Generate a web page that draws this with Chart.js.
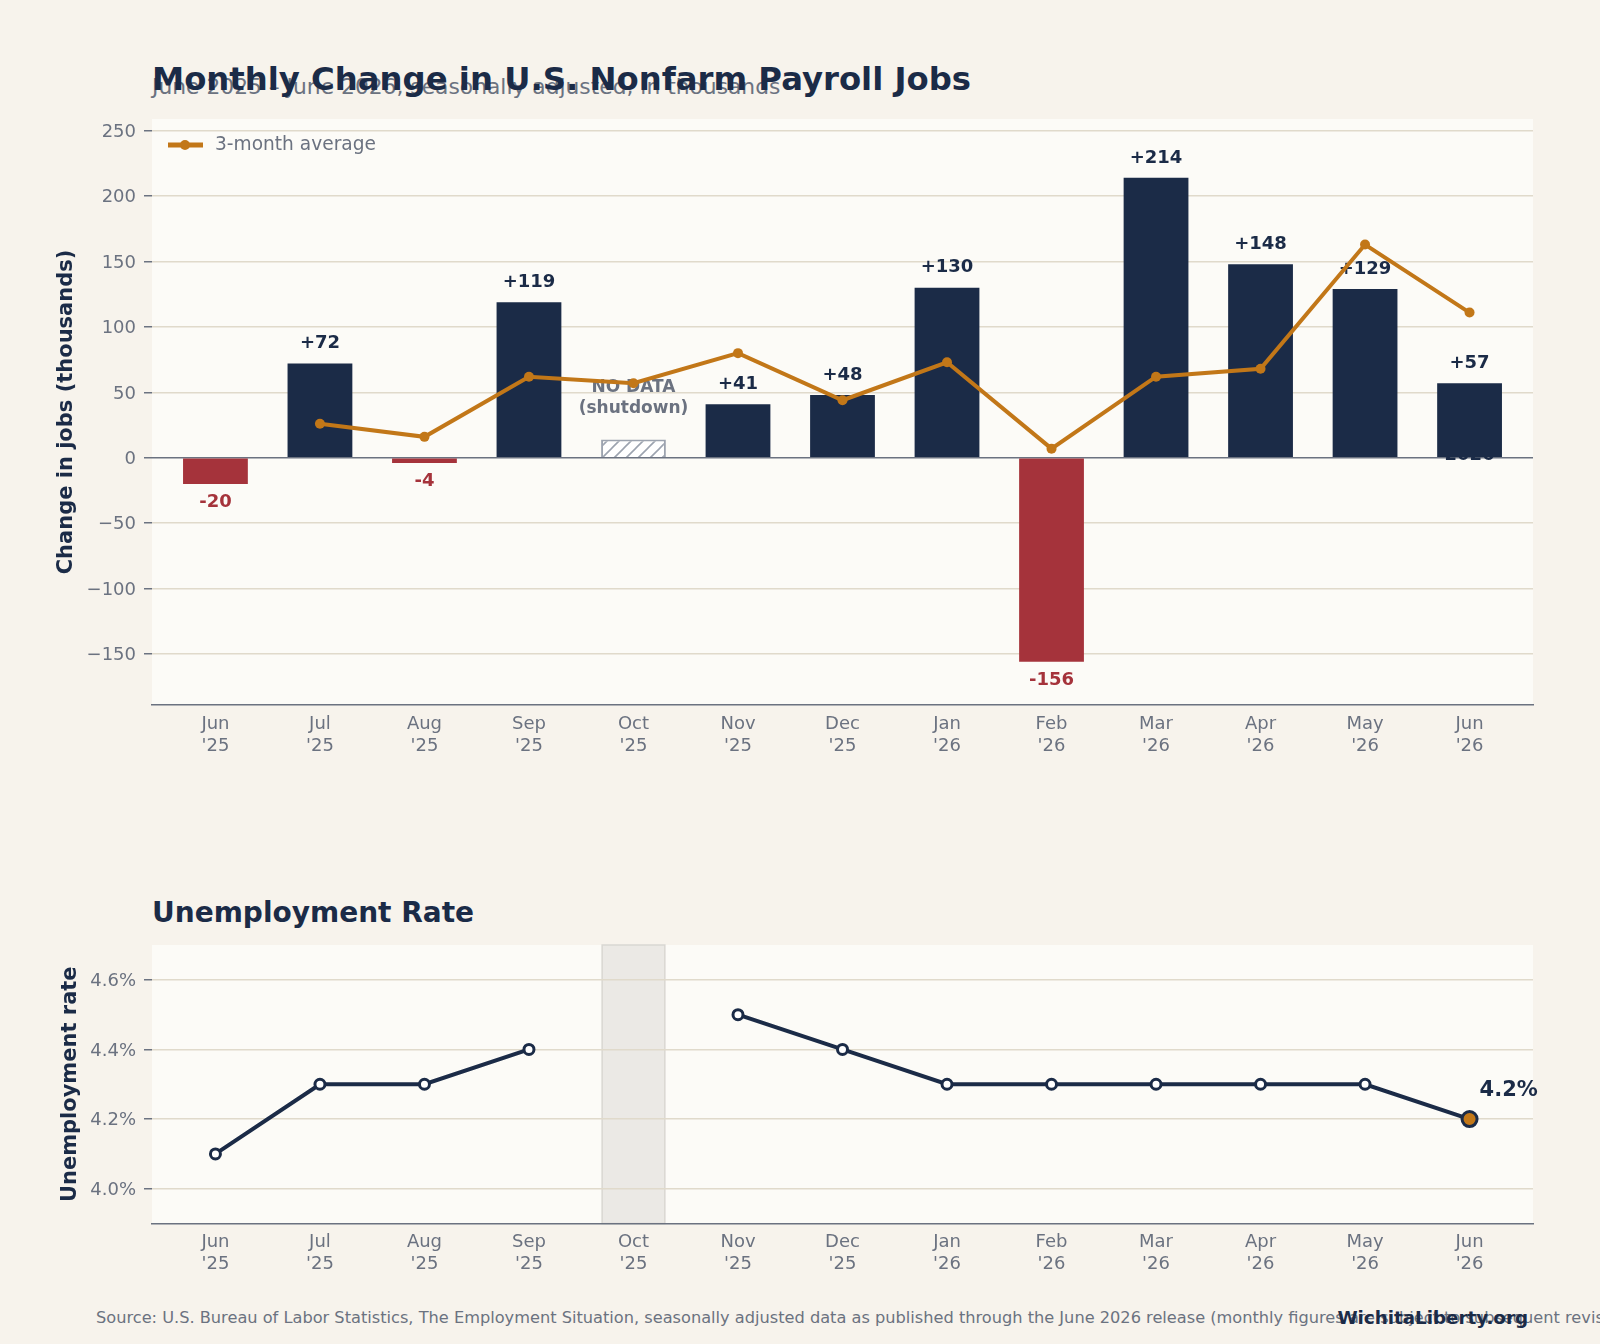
<!DOCTYPE html>
<html lang="en">
<head>
    <meta charset="UTF-8">
    <title>Monthly Change in U.S. Nonfarm Payroll Jobs</title>
    <script src="https://cdn.jsdelivr.net/npm/chart.js"></script>
    <style>
        body {
            margin: 0;
            width: 1600px;
            height: 1344px;
            overflow: hidden;
            background: #f7f3ec;
            font-family: "DejaVu Sans", sans-serif;
            position: relative;
        }
        .txt {
            position: absolute;
            white-space: nowrap;
        }
        .title {
            left: 152px;
            top: 60px;
            font-size: 32.3px;
            line-height: 38px;
            font-weight: bold;
            color: #1b2b47;
            z-index: 2;
        }
        .subtitle {
            left: 152px;
            top: 74px;
            font-size: 21.8px;
            line-height: 26px;
            color: #6b7280;
            z-index: 1;
        }
        .title2 {
            left: 152px;
            top: 896px;
            font-size: 28px;
            line-height: 34px;
            font-weight: bold;
            color: #1b2b47;
        }
        .source {
            left: 96px;
            top: 1308px;
            font-size: 16.2px;
            line-height: 19px;
            color: #6b7280;
        }
        .brand {
            right: 72px;
            top: 1307px;
            font-size: 18.3px;
            line-height: 22px;
            font-weight: bold;
            color: #1b2b47;
        }
        canvas { position: absolute; left: 0; }
        #jobsChart { top: 100px; }
        #rateChart { top: 920px; }
    </style>
</head>
<body>
    <div class="txt subtitle">June 2025 – June 2026, seasonally adjusted, in thousands</div>
    <div class="txt title">Monthly Change in U.S. Nonfarm Payroll Jobs</div>
    <canvas id="jobsChart" width="1600" height="680"></canvas>
    <div class="txt title2">Unemployment Rate</div>
    <canvas id="rateChart" width="1600" height="370"></canvas>
    <div class="txt source">Source: U.S. Bureau of Labor Statistics, The Employment Situation, seasonally adjusted data as published through the June 2026 release (monthly figures are subject to subsequent revisions).</div>
    <div class="txt brand">WichitaLiberty.org</div>

    <script>
        // data
        const months = ['Jun', 'Jul', 'Aug', 'Sep', 'Oct', 'Nov', 'Dec', 'Jan', 'Feb', 'Mar', 'Apr', 'May', 'Jun'];
        const years = ["'25", "'25", "'25", "'25", "'25", "'25", "'25", "'26", "'26", "'26", "'26", "'26", "'26"];
        const jobChange = [-20, 72, -4, 119, null, 41, 48, 130, -156, 214, 148, 129, 57];
        const noDataMarker = [null, null, null, null, 14, null, null, null, null, null, null, null, null];
        const threeMonthAvg = [null, 26, 16, 62, 57, 80, 44, 73, 7, 62, 68, 163, 111];
        const unemploymentRate = [4.1, 4.3, 4.3, 4.4, null, 4.5, 4.4, 4.3, 4.3, 4.3, 4.3, 4.3, 4.2];
        const jobTicks = [-150, -100, -50, 0, 50, 100, 150, 200, 250];
        const rateTicks = [4.0, 4.2, 4.4, 4.6];
        const shutdownIndex = 4;

        const NAVY = '#1b2b47';
        const RED = '#a5333b';
        const ORANGE = '#c27718';
        const GRAY = '#6b7280';
        const GRID = '#e0dacb';
        const PLOT_BG = '#fcfbf7';
        const FONT = '"DejaVu Sans", sans-serif';

        Chart.defaults.font.family = FONT;
        Chart.defaults.color = GRAY;

        const xMin = -0.607, xMax = 12.607;

        function xy(arr) {
            return arr.map((v, i) => ({ x: i, y: v }));
        }

        function hatch() {
            const c = document.createElement('canvas');
            c.width = 12; c.height = 12;
            const g = c.getContext('2d');
            g.fillStyle = '#ffffff';
            g.fillRect(0, 0, 12, 12);
            g.strokeStyle = '#9ca3af';
            g.lineWidth = 1.6;
            g.beginPath();
            g.moveTo(0, 12); g.lineTo(12, 0);
            g.moveTo(-6, 6); g.lineTo(6, -6);
            g.moveTo(6, 18); g.lineTo(18, 6);
            g.stroke();
            return g.createPattern(c, 'repeat');
        }

        const plotBg = {
            id: 'plotBg',
            beforeDraw(chart) {
                const { ctx, chartArea: a } = chart;
                ctx.save();
                ctx.fillStyle = PLOT_BG;
                ctx.fillRect(a.left, a.top, a.right - a.left, a.bottom - a.top);
                ctx.restore();
            }
        };

        function xAxis(h) {
            return {
                type: 'linear',
                min: xMin,
                max: xMax,
                offset: false,
                grid: { display: false, drawTicks: false },
                border: { display: true, color: GRAY, width: 1.5 },
                afterBuildTicks: s => { s.ticks = months.map((m, i) => ({ value: i })); },
                afterFit: s => { s.height = h; },
                ticks: {
                    autoSkip: false,
                    maxRotation: 0,
                    padding: 8,
                    color: GRAY,
                    font: { size: 18, lineHeight: 1.22 },
                    callback: v => [months[v], years[v]]
                }
            };
        }

        // labels on the bars
        const barLabels = {
            id: 'barLabels',
            beforeDatasetsDraw(chart) {
                const { ctx } = chart;
                const meta = chart.getDatasetMeta(0);
                const last = meta.data[meta.data.length - 1];
                const y0 = chart.scales.y.getPixelForValue(0);
                ctx.save();
                ctx.font = 'bold 18px ' + FONT;
                ctx.fillStyle = NAVY;
                ctx.textAlign = 'center';
                ctx.textBaseline = 'middle';
                ctx.fillText('2026', last.x, y0 - 2);
                ctx.restore();
            },
            afterDatasetDraw(chart, args) {
                if (args.index !== 1) return;
                const { ctx } = chart;
                const meta = chart.getDatasetMeta(0);
                ctx.save();
                ctx.font = 'bold 18px ' + FONT;
                ctx.textAlign = 'center';
                ctx.textBaseline = 'middle';
                jobChange.forEach((v, i) => {
                    if (v === null) return;
                    const bar = meta.data[i];
                    if (v >= 0) {
                        ctx.fillStyle = NAVY;
                        ctx.fillText('+' + v, bar.x, bar.y - 20);
                    } else {
                        ctx.fillStyle = RED;
                        ctx.fillText(String(v), bar.x, bar.y + 18);
                    }
                });
                const nd = chart.getDatasetMeta(1).data[shutdownIndex];
                ctx.font = 'bold 17px ' + FONT;
                ctx.fillStyle = GRAY;
                ctx.fillText('NO DATA', nd.x, nd.y - 52);
                ctx.fillText('(shutdown)', nd.x, nd.y - 31);
                ctx.restore();
            },
            afterDraw(chart) {
                // legend in the top-left corner of the plot
                const { ctx, chartArea: a } = chart;
                const y = a.top + 26;
                const x = a.left + 16;
                ctx.save();
                ctx.strokeStyle = ORANGE;
                ctx.lineWidth = 5;
                ctx.beginPath();
                ctx.moveTo(x, y);
                ctx.lineTo(x + 35, y);
                ctx.stroke();
                ctx.fillStyle = ORANGE;
                ctx.beginPath();
                ctx.arc(x + 17, y, 5, 0, Math.PI * 2);
                ctx.fill();
                ctx.fillStyle = GRAY;
                ctx.font = '18.6px ' + FONT;
                ctx.textBaseline = 'middle';
                ctx.fillText('3-month average', x + 47, y);
                ctx.restore();
            }
        };

        new Chart(document.getElementById('jobsChart'), {
            data: {
                datasets: [{
                    type: 'bar',
                    label: 'Monthly change',
                    data: xy(jobChange),
                    backgroundColor: jobChange.map(v => v < 0 ? RED : NAVY),
                    barPercentage: 0.62,
                    categoryPercentage: 1,
                    grouped: false,
                    order: 2
                }, {
                    type: 'bar',
                    label: 'No data',
                    data: xy(noDataMarker),
                    backgroundColor: hatch(),
                    borderColor: '#9ca3af',
                    borderWidth: 2,
                    barPercentage: 0.62,
                    categoryPercentage: 1,
                    grouped: false,
                    order: 1
                }, {
                    type: 'line',
                    label: '3-month average',
                    data: xy(threeMonthAvg),
                    borderColor: ORANGE,
                    backgroundColor: ORANGE,
                    borderWidth: 4,
                    pointRadius: 5,
                    pointBorderWidth: 0,
                    spanGaps: false,
                    tension: 0,
                    order: 0
                }]
            },
            options: {
                responsive: false,
                animation: false,
                layout: { padding: { top: 19, right: 67, left: 0, bottom: 0 } },
                plugins: { legend: { display: false }, tooltip: { enabled: false } },
                scales: {
                    x: xAxis(75),
                    y: {
                        min: -189,
                        max: 259,
                        afterBuildTicks: s => { s.ticks = jobTicks.map(v => ({ value: v })); },
                        afterFit: s => { s.width = 152; },
                        grid: {
                            color: c => c.tick && c.tick.value === 0 ? GRAY : GRID,
                            lineWidth: 1.5,
                            tickColor: GRAY,
                            tickLength: 8
                        },
                        border: { display: false },
                        ticks: {
                            padding: 8,
                            labelOffset: 1.5,
                            color: GRAY,
                            font: { size: 18 },
                            callback: v => v < 0 ? '\u2212' + Math.abs(v) : String(v)
                        },
                        title: {
                            display: true,
                            text: 'Change in jobs (thousands)',
                            color: NAVY,
                            font: { size: 21, weight: 'bold' },
                            padding: { top: 54, bottom: 0 }
                        }
                    }
                }
            },
            plugins: [plotBg, barLabels]
        });

        // grey band for the missing October reading
        const shutdownBand = {
            id: 'shutdownBand',
            beforeDraw(chart) {
                const { ctx, chartArea: a, scales } = chart;
                const w = (scales.x.getPixelForValue(1) - scales.x.getPixelForValue(0)) * 0.6;
                const cx = scales.x.getPixelForValue(shutdownIndex);
                ctx.save();
                ctx.fillStyle = PLOT_BG;
                ctx.fillRect(a.left, a.top, a.right - a.left, a.bottom - a.top);
                ctx.fillStyle = '#ebe9e5';
                ctx.strokeStyle = '#d9d7d2';
                ctx.lineWidth = 1.5;
                ctx.fillRect(cx - w / 2, a.top, w, a.bottom - a.top);
                ctx.strokeRect(cx - w / 2, a.top, w, a.bottom - a.top);
                ctx.restore();
            },
            afterDatasetsDraw(chart) {
                const { ctx } = chart;
                const meta = chart.getDatasetMeta(0);
                const i = unemploymentRate.length - 1;
                const pt = meta.data[i];
                ctx.save();
                ctx.font = 'bold 21px ' + FONT;
                ctx.fillStyle = NAVY;
                ctx.textAlign = 'left';
                ctx.textBaseline = 'middle';
                ctx.fillText(unemploymentRate[i].toFixed(1) + '%', pt.x + 10, pt.y - 29);
                ctx.restore();
            }
        };

        const lastIdx = unemploymentRate.length - 1;

        new Chart(document.getElementById('rateChart'), {
            type: 'line',
            data: {
                datasets: [{
                    label: 'Unemployment rate',
                    data: xy(unemploymentRate),
                    borderColor: NAVY,
                    borderWidth: 4,
                    pointRadius: unemploymentRate.map((v, i) => i === lastIdx ? 7.5 : 5),
                    pointBackgroundColor: unemploymentRate.map((v, i) => i === lastIdx ? ORANGE : '#ffffff'),
                    pointBorderColor: NAVY,
                    pointBorderWidth: 3,
                    spanGaps: false,
                    tension: 0
                }]
            },
            options: {
                responsive: false,
                animation: false,
                layout: { padding: { top: 25, right: 67, left: 0, bottom: 0 } },
                plugins: { legend: { display: false }, tooltip: { enabled: false } },
                scales: {
                    x: xAxis(66.5),
                    y: {
                        min: 3.9,
                        max: 4.7,
                        afterBuildTicks: s => { s.ticks = rateTicks.map(v => ({ value: v })); },
                        afterFit: s => { s.width = 152; },
                        grid: { color: GRID, lineWidth: 1.5, tickColor: GRAY, tickLength: 8 },
                        border: { display: false },
                        ticks: {
                            padding: 8,
                            labelOffset: 1.5,
                            color: GRAY,
                            font: { size: 18 },
                            callback: v => v.toFixed(1) + '%'
                        },
                        title: {
                            display: true,
                            text: 'Unemployment rate',
                            color: NAVY,
                            font: { size: 21, weight: 'bold' },
                            padding: { top: 57.5, bottom: 0 }
                        }
                    }
                }
            },
            plugins: [shutdownBand]
        });
    </script>
</body>
</html>
